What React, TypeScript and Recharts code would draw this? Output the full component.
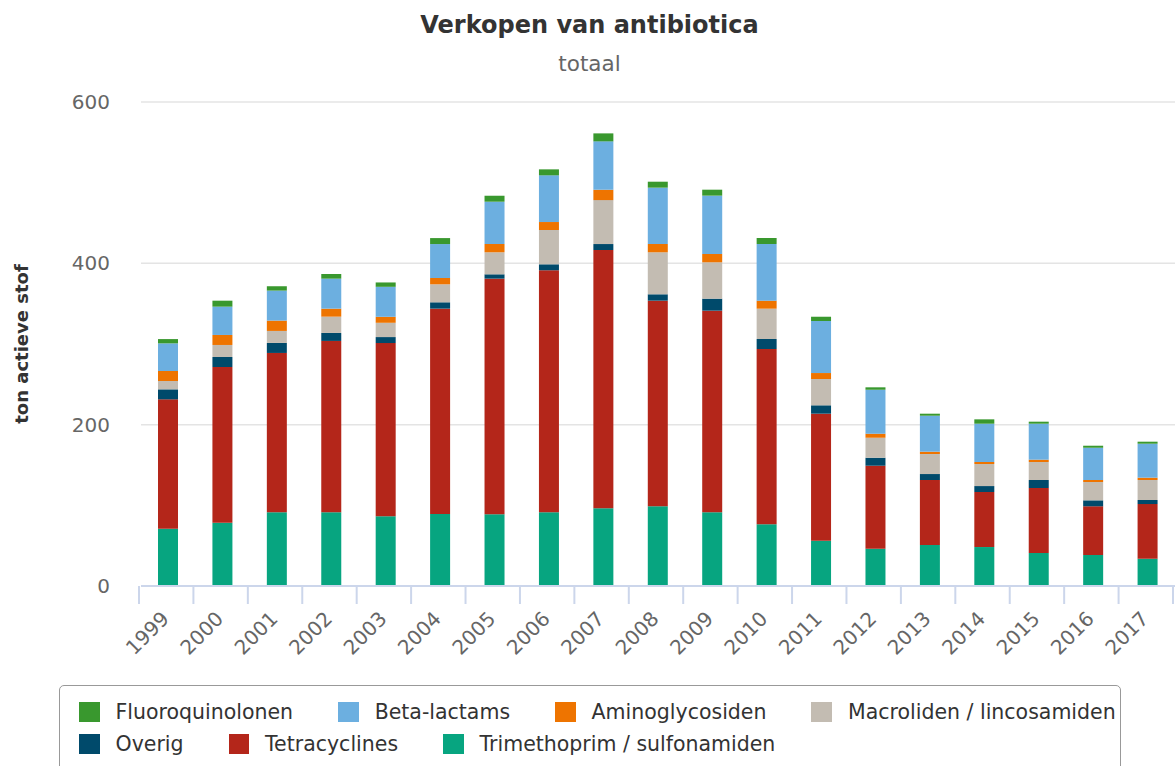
import React from 'react';
import { BarChart, Bar, XAxis, YAxis, CartesianGrid, Legend } from 'recharts';

// tonnen actieve stof per jaar, per groep
const YEARS = [
  '1999', '2000', '2001', '2002', '2003', '2004', '2005', '2006', '2007', '2008',
  '2009', '2010', '2011', '2012', '2013', '2014', '2015', '2016', '2017',
];
const TRIMETHOPRIM = [71, 78.5, 91.4, 91.4, 86.4, 89.3, 88.9, 91.4, 96.3, 98.8, 91.4, 76.5, 56.2, 46.2, 50.8, 48.3, 40.9, 38.4, 33.8];
const TETRACYCLINES = [160.4, 193, 197.5, 212.4, 214.8, 254.5, 292.1, 300, 320.2, 254.9, 249.9, 217.3, 157.4, 102.9, 80.6, 68.2, 80.6, 60.4, 67.8];
const OVERIG = [12.4, 12.4, 12.4, 9.9, 7.4, 7.9, 5.4, 7.4, 7.4, 7.9, 14.9, 12.4, 10.4, 9.9, 7.4, 7.4, 9.9, 7.4, 5];
const MACROLIDEN = [10.3, 14.9, 14.9, 20.2, 17.7, 22.3, 27.3, 42.5, 54.5, 52.1, 45.1, 37.6, 32.6, 24.8, 24.8, 27.3, 22.3, 22.7, 24.8];
const AMINOGLYCOSIDEN = [12.4, 12.4, 12.8, 9.9, 7.4, 7.8, 10.3, 9.9, 12.8, 10.3, 10.3, 9.9, 7.4, 5, 2.9, 2.5, 2.9, 2.5, 2.9];
const BETA_LACTAMS = [34.3, 35.1, 37.2, 37.2, 37.2, 42.1, 52.4, 57.9, 60, 69.8, 72.3, 70.3, 64.5, 54.5, 44.6, 47.5, 44.6, 40, 42.1];
const FLUOROQUINOLONEN = [5.3, 7.4, 5.4, 5.8, 5.4, 7.4, 7.4, 7.4, 9.9, 7.4, 7.4, 7.4, 5.3, 3, 2.5, 5.4, 2.5, 2.5, 2.5];
const Y_TICKS = [0, 200, 400, 600];

// stapelvolgorde van onder naar boven
const SERIES = [
  { key: 'trim', name: 'Trimethoprim / sulfonamiden', color: '#07a580', values: TRIMETHOPRIM },
  { key: 'tetra', name: 'Tetracyclines', color: '#b4261a', values: TETRACYCLINES },
  { key: 'overig', name: 'Overig', color: '#004a6b', values: OVERIG },
  { key: 'macro', name: 'Macroliden / lincosamiden', color: '#c3bcb2', values: MACROLIDEN },
  { key: 'amino', name: 'Aminoglycosiden', color: '#ee7400', values: AMINOGLYCOSIDEN },
  { key: 'beta', name: 'Beta-lactams', color: '#6cafe0', values: BETA_LACTAMS },
  { key: 'fluoro', name: 'Fluoroquinolonen', color: '#39982e', values: FLUOROQUINOLONEN },
];

const data = YEARS.map((year, i) => {
  const row: Record<string, string | number> = { year };
  SERIES.forEach((s) => { row[s.key] = s.values[i]; });
  return row;
});

const W = 1175;
const H = 766;
const PLOT_LEFT = 141;
const HALF_BAND = (W - PLOT_LEFT) / YEARS.length / 2;

const XTick = (props: any) => {
  const { x, y, payload, index } = props;
  const tx = x - HALF_BAND - 2;
  const lx = x + 2;
  const ly = y + 34;
  return (
    <g>
      <line x1={tx} x2={tx} y1={y} y2={y + 18} stroke="#ccd6eb" strokeWidth={2} />
      {index === YEARS.length - 1 && (
        <line x1={tx + 2 * HALF_BAND} x2={tx + 2 * HALF_BAND} y1={y} y2={y + 18} stroke="#ccd6eb" strokeWidth={2} />
      )}
      <text x={lx} y={ly} textAnchor="end" fill="#666666" fontSize={20} transform={`rotate(-45 ${lx} ${ly})`}>
        {payload.value}
      </text>
    </g>
  );
};

const legendRows = [
  ['fluoro', 'beta', 'amino', 'macro'],
  ['overig', 'tetra', 'trim'],
];

const LegendBox = () => (
  <div
    style={{
      border: '1.5px solid #999999',
      borderRadius: 5,
      height: 120,
      padding: '10px 0 0 19px',
      boxSizing: 'border-box',
    }}
  >
    {legendRows.map((row, r) => (
      <div key={r} style={{ display: 'flex', alignItems: 'center', height: 32 }}>
        {row.map((k) => {
          const s = SERIES.find((x) => x.key === k)!;
          return (
            <div key={k} style={{ display: 'flex', alignItems: 'center', marginRight: 45 }}>
              <span style={{ width: 20.5, height: 20.5, background: s.color, display: 'inline-block', marginRight: 16 }} />
              <span style={{ fontSize: 20.5, color: '#333333', whiteSpace: 'nowrap' }}>{s.name}</span>
            </div>
          );
        })}
      </div>
    ))}
  </div>
);

export default function App() {
  return (
    <div
      style={{
        position: 'absolute',
        left: 0,
        top: 0,
        width: W,
        height: H,
        overflow: 'hidden',
        background: '#ffffff',
        fontFamily: '"DejaVu Sans", Verdana, sans-serif',
      }}
    >
      <div style={{ position: 'absolute', left: 0, width: W + 4, top: 11, textAlign: 'center', fontSize: 24, fontWeight: 'bold', color: '#333333' }}>
        Verkopen van antibiotica
      </div>
      <div style={{ position: 'absolute', left: 0, width: W + 4, top: 51, textAlign: 'center', fontSize: 21.5, color: '#666666' }}>
        totaal
      </div>
      <BarChart width={W} height={H} data={data} margin={{ top: 102, right: 0, bottom: 90, left: 0 }}>
        <CartesianGrid vertical={false} stroke="#e4e4e4" strokeWidth={1.5} />
        <XAxis
          dataKey="year"
          height={90}
          interval={0}
          tickSize={0}
          tickMargin={0}
          tickLine={false}
          axisLine={{ stroke: '#ccd6eb', strokeWidth: 2 }}
          tick={<XTick />}
        />
        <YAxis
          width={PLOT_LEFT}
          domain={[0, 600]}
          ticks={Y_TICKS}
          tickLine={false}
          axisLine={false}
          tickSize={0}
          tickMargin={31}
          tick={{ fill: '#666666', fontSize: 20 }}
          label={{
            content: (p: any) => {
              const vb = p.viewBox;
              const cx = 28;
              const cy = vb.y + vb.height / 2;
              return (
                <text x={cx} y={cy} textAnchor="middle" fontSize={18} fontWeight="bold" fill="#333333" transform={`rotate(-90 ${cx} ${cy})`}>
                  ton actieve stof
                </text>
              );
            },
          }}
        />
        <Legend
          layout="horizontal"
          verticalAlign="middle"
          align="center"
          wrapperStyle={{ left: 59, top: 685, width: 1062 }}
          content={() => <LegendBox />}
        />
        {SERIES.map((s) => (
          <Bar key={s.key} dataKey={s.key} name={s.name} stackId="total" fill={s.color} barSize={20} isAnimationActive={false} />
        ))}
      </BarChart>
    </div>
  );
}
